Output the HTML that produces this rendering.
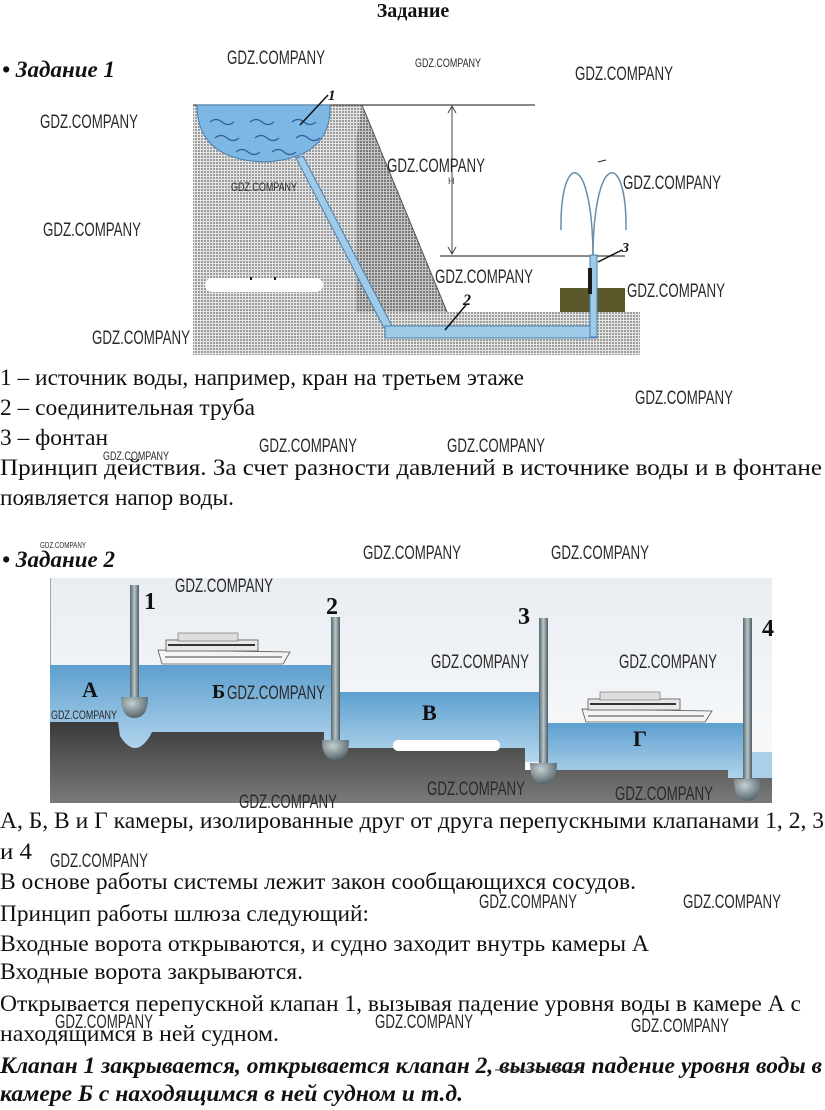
<!DOCTYPE html>
<html><head><meta charset="utf-8"><style>
html,body{margin:0;padding:0;background:#fff;}
svg{display:block;}
.t{font-family:"Liberation Serif","DejaVu Serif",serif;font-size:23px;fill:#111;}
.b{font-weight:bold;font-size:20px;}
.bi{font-weight:bold;font-style:italic;}
.w{font-family:"Liberation Sans","DejaVu Sans",sans-serif;font-size:19px;fill:#2a2a2a;}
.ws{font-family:"Liberation Sans","DejaVu Sans",sans-serif;font-size:12px;fill:#2a2a2a;}
.hw{font-family:"Liberation Serif",serif;font-size:26px;font-weight:bold;fill:#111;}
</style></head><body>
<svg width="825" height="1110" viewBox="0 0 825 1110" xmlns="http://www.w3.org/2000/svg">
<defs>
<pattern id="dots" width="3" height="3" patternUnits="userSpaceOnUse"><rect width="3" height="3" fill="#e4e4e4"/><rect width="2" height="2" fill="#9c9c9c"/></pattern>
<pattern id="dots2" width="3" height="3" patternUnits="userSpaceOnUse"><rect width="3" height="3" fill="#bdbdbd"/><rect width="2" height="2" fill="#707070"/></pattern>
<linearGradient id="sky" x1="0" y1="0" x2="0" y2="1"><stop offset="0" stop-color="#e9edf1"/><stop offset="1" stop-color="#fbfcfd"/></linearGradient>
<linearGradient id="water" x1="0" y1="0" x2="0" y2="1"><stop offset="0" stop-color="#5d9fcf"/><stop offset="1" stop-color="#b7d8ee"/></linearGradient>
<linearGradient id="ground" x1="0" y1="0" x2="0" y2="1"><stop offset="0" stop-color="#3a3a3a"/><stop offset="1" stop-color="#7a7a7a"/></linearGradient>
<linearGradient id="pole" x1="0" y1="0" x2="1" y2="0"><stop offset="0" stop-color="#55676e"/><stop offset="0.5" stop-color="#b9c6ca"/><stop offset="1" stop-color="#4d5c62"/></linearGradient>
<radialGradient id="bulb" cx="0.4" cy="0.3" r="0.8"><stop offset="0" stop-color="#c4d0d3"/><stop offset="1" stop-color="#44555b"/></radialGradient>
</defs>

<text class="t b" x="413" y="17" text-anchor="middle">Задание</text>
<text class="t bi" x="2" y="77" textLength="113" lengthAdjust="spacingAndGlyphs">• Задание 1</text>

<!-- Diagram 1 -->
<polygon points="193,105 362,105 447,312 640,312 640,355 193,355" fill="url(#dots)"/>
<polygon points="356,140 362,105 447,312 356,312" fill="url(#dots2)" opacity="0.8"/>
<line x1="362" y1="105" x2="447" y2="312" stroke="#555" stroke-width="1"/>
<rect x="205" y="278" width="118" height="14" rx="7" fill="#fff"/>
<rect x="250" y="277" width="2" height="3" fill="#222"/><rect x="274" y="277" width="2" height="3" fill="#222"/>
<line x1="193" y1="105" x2="535" y2="105" stroke="#444" stroke-width="1.2"/>
<line x1="440" y1="256" x2="625" y2="256" stroke="#444" stroke-width="1.2"/>
<line x1="452" y1="107" x2="452" y2="254" stroke="#444" stroke-width="1"/>
<path d="M448,113 L452,106 L456,113 M448,247 L452,254 L456,247" stroke="#444" fill="none"/>
<text x="448" y="184" font-family="Liberation Sans" font-size="9" fill="#444">H</text>
<path d="M197,105 L330,105 Q332,158 265,162 Q197,160 197,105 Z" fill="#7db7e3" stroke="#4a80b0"/>
<g stroke="#2f5f9a" stroke-width="1.2" fill="none">
<path d="M210,122 q6,-5 12,0 q6,5 12,0"/><path d="M250,122 q6,-5 12,0 q6,5 12,0"/><path d="M292,122 q6,-5 12,0 q6,5 12,0"/>
<path d="M215,138 q6,-5 12,0 q6,5 12,0"/><path d="M255,138 q6,-5 12,0 q6,5 12,0"/><path d="M296,138 q6,-5 12,0 q6,5 12,0"/>
<path d="M236,152 q6,-5 12,0 q6,5 12,0"/><path d="M272,152 q6,-5 12,0 q6,5 12,0"/>
</g>
<polygon points="296,158 303,156 392,326 384,328" fill="#9fcbe9" stroke="#4a80b0"/>
<rect x="385" y="326" width="212" height="12" fill="#9fcbe9" stroke="#4a80b0"/>
<rect x="560" y="288" width="65" height="24" fill="#5b582c"/>
<rect x="590" y="255" width="7" height="82" fill="#9fcbe9" stroke="#4a80b0"/>
<rect x="588" y="268" width="4" height="26" fill="#1c1c1c"/>
<g stroke="#6a8ea8" stroke-width="1.5" fill="none">
<path d="M593,255 C592,150 560,150 561,230"/>
<path d="M593,255 C594,150 627,150 626,230"/>
</g>
<path d="M598,162 l8,-2" stroke="#222"/>
<g stroke="#111" stroke-width="1.5" fill="none">
<path d="M300,125 L328,95"/><path d="M445,330 L466,305"/><path d="M598,262 L622,250"/>
</g>
<text x="328" y="100" font-family="Liberation Serif" font-style="italic" font-weight="bold" font-size="15" fill="#111">1</text>
<text x="463" y="305" font-family="Liberation Serif" font-style="italic" font-weight="bold" font-size="16" fill="#111">2</text>
<text x="622" y="252" font-family="Liberation Serif" font-style="italic" font-weight="bold" font-size="14" fill="#111">3</text>

<text class="t" x="0" y="385" textLength="524" lengthAdjust="spacingAndGlyphs">1 – источник воды, например, кран на третьем этаже</text>
<text class="t" x="0" y="415" textLength="255" lengthAdjust="spacingAndGlyphs">2 – соединительная труба</text>
<text class="t" x="0" y="445" textLength="108" lengthAdjust="spacingAndGlyphs">3 – фонтан</text>
<text class="t" x="0" y="475" textLength="822" lengthAdjust="spacingAndGlyphs">Принцип  действия.  За  счет  разности  давлений  в  источнике  воды  и  в  фонтане</text>
<text class="t" x="0" y="505" textLength="234" lengthAdjust="spacingAndGlyphs">появляется напор воды.</text>

<text class="t bi" x="2" y="567" textLength="113" lengthAdjust="spacingAndGlyphs">• Задание 2</text>

<!-- Diagram 2 -->
<rect x="50" y="578" width="722" height="225" fill="url(#sky)"/>
<line x1="50.5" y1="578" x2="50.5" y2="803" stroke="#9aa" stroke-width="1"/>
<rect x="50" y="665" width="286" height="90" fill="url(#water)"/>
<rect x="336" y="692" width="206" height="70" fill="url(#water)"/>
<rect x="542" y="723" width="205" height="60" fill="url(#water)"/>
<rect x="747" y="752" width="25" height="30" fill="#a9cfe9"/>
<path d="M50,722 L118,722 L120,736 Q135,760 150,736 L152,732 L324,732 L324,748 L525,748 L525,770 L728,770 L728,778 L772,778 L772,803 L50,803 Z" fill="url(#ground)"/>
<rect x="393" y="740" width="107" height="11" rx="5" fill="#fff"/>
<g>
<path d="M158,650 L290,652 L283,664 L162,664 Z" fill="#f4f4f4" stroke="#555" stroke-width="0.8"/>
<rect x="166" y="640" width="92" height="11" fill="#e8e8e8" stroke="#555" stroke-width="0.8"/>
<rect x="178" y="633" width="60" height="8" fill="#ddd" stroke="#666" stroke-width="0.6"/>
<line x1="168" y1="645" x2="255" y2="645" stroke="#333" stroke-width="2"/>
<line x1="165" y1="657" x2="282" y2="657" stroke="#444" stroke-width="1"/>
</g>
<g>
<path d="M582,709 L712,711 L705,722 L586,722 Z" fill="#f4f4f4" stroke="#555" stroke-width="0.8"/>
<rect x="588" y="699" width="92" height="11" fill="#e8e8e8" stroke="#555" stroke-width="0.8"/>
<rect x="600" y="692" width="60" height="8" fill="#ddd" stroke="#666" stroke-width="0.6"/>
<line x1="590" y1="704" x2="676" y2="704" stroke="#333" stroke-width="2"/>
<line x1="588" y1="716" x2="704" y2="716" stroke="#444" stroke-width="1"/>
</g>
<rect x="130" y="585" width="9" height="112" fill="url(#pole)"/>
<path d="M121,697 L148,697 Q148,718 134.5,718 Q121,718 121,697 Z" fill="url(#bulb)"/>
<rect x="331" y="617" width="9" height="125" fill="url(#pole)"/>
<path d="M322,740 L349,740 Q349,760 335.5,760 Q322,760 322,740 Z" fill="url(#bulb)"/>
<rect x="539" y="618" width="9" height="146" fill="url(#pole)"/>
<path d="M530,763 L557,763 Q557,784 543.5,784 Q530,784 530,763 Z" fill="url(#bulb)"/>
<rect x="743" y="618" width="9" height="162" fill="url(#pole)"/>
<path d="M734,779 L761,779 Q761,801 747.5,801 Q734,801 734,779 Z" fill="url(#bulb)"/>
<g class="hw">
<text x="144" y="609" font-size="24">1</text>
<text x="326" y="614" font-size="24">2</text>
<text x="518" y="624" font-size="24">3</text>
<text x="762" y="636" font-size="24">4</text>
<text x="82" y="697" font-size="22">А</text>
<text x="212" y="698" font-size="20">Б</text>
<text x="422" y="720" font-size="22">В</text>
<text x="633" y="746" font-size="22">Г</text>
</g>

<text class="t" x="0" y="828" textLength="824" lengthAdjust="spacingAndGlyphs">А, Б, В и Г камеры, изолированные друг от друга перепускными клапанами 1, 2, 3</text>
<text class="t" x="0" y="859" textLength="32" lengthAdjust="spacingAndGlyphs">и 4</text>
<text class="t" x="0" y="889" textLength="636" lengthAdjust="spacingAndGlyphs">В основе работы системы лежит закон сообщающихся сосудов.</text>
<text class="t" x="0" y="921" textLength="369" lengthAdjust="spacingAndGlyphs">Принцип работы шлюза следующий:</text>
<text class="t" x="0" y="951" textLength="649" lengthAdjust="spacingAndGlyphs">Входные ворота открываются, и судно заходит внутрь камеры А</text>
<text class="t" x="0" y="979" textLength="303" lengthAdjust="spacingAndGlyphs">Входные ворота закрываются.</text>
<text class="t" x="0" y="1011" textLength="801" lengthAdjust="spacingAndGlyphs">Открывается перепускной клапан 1, вызывая падение уровня воды в камере А с</text>
<text class="t" x="0" y="1041" textLength="279" lengthAdjust="spacingAndGlyphs">находящимся в ней судном.</text>
<text class="t bi" x="0" y="1073" textLength="822" lengthAdjust="spacingAndGlyphs">Клапан 1 закрывается, открывается клапан 2, вызывая падение уровня воды в</text>
<line x1="495" y1="1070" x2="580" y2="1070" stroke="#333" stroke-width="1"/>
<text class="t bi" x="0" y="1101" textLength="463" lengthAdjust="spacingAndGlyphs">камере Б с находящимся в ней судном и т.д.</text>

<g class="w">
<text x="227" y="64" textLength="98" lengthAdjust="spacingAndGlyphs">GDZ.COMPANY</text>
<text x="575" y="80" textLength="98" lengthAdjust="spacingAndGlyphs">GDZ.COMPANY</text>
<text x="40" y="128" textLength="98" lengthAdjust="spacingAndGlyphs">GDZ.COMPANY</text>
<text x="387" y="172" textLength="98" lengthAdjust="spacingAndGlyphs">GDZ.COMPANY</text>
<text x="623" y="189" textLength="98" lengthAdjust="spacingAndGlyphs">GDZ.COMPANY</text>
<text x="43" y="236" textLength="98" lengthAdjust="spacingAndGlyphs">GDZ.COMPANY</text>
<text x="435" y="283" textLength="98" lengthAdjust="spacingAndGlyphs">GDZ.COMPANY</text>
<text x="627" y="297" textLength="98" lengthAdjust="spacingAndGlyphs">GDZ.COMPANY</text>
<text x="92" y="344" textLength="98" lengthAdjust="spacingAndGlyphs">GDZ.COMPANY</text>
<text x="635" y="404" textLength="98" lengthAdjust="spacingAndGlyphs">GDZ.COMPANY</text>
<text x="259" y="452" textLength="98" lengthAdjust="spacingAndGlyphs">GDZ.COMPANY</text>
<text x="447" y="452" textLength="98" lengthAdjust="spacingAndGlyphs">GDZ.COMPANY</text>
<text x="363" y="559" textLength="98" lengthAdjust="spacingAndGlyphs">GDZ.COMPANY</text>
<text x="551" y="559" textLength="98" lengthAdjust="spacingAndGlyphs">GDZ.COMPANY</text>
<text x="175" y="592" textLength="98" lengthAdjust="spacingAndGlyphs">GDZ.COMPANY</text>
<text x="431" y="668" textLength="98" lengthAdjust="spacingAndGlyphs">GDZ.COMPANY</text>
<text x="619" y="668" textLength="98" lengthAdjust="spacingAndGlyphs">GDZ.COMPANY</text>
<text x="227" y="699" textLength="98" lengthAdjust="spacingAndGlyphs">GDZ.COMPANY</text>
<text x="239" y="808" textLength="98" lengthAdjust="spacingAndGlyphs">GDZ.COMPANY</text>
<text x="427" y="795" textLength="98" lengthAdjust="spacingAndGlyphs">GDZ.COMPANY</text>
<text x="615" y="800" textLength="98" lengthAdjust="spacingAndGlyphs">GDZ.COMPANY</text>
<text x="50" y="867" textLength="98" lengthAdjust="spacingAndGlyphs">GDZ.COMPANY</text>
<text x="479" y="908" textLength="98" lengthAdjust="spacingAndGlyphs">GDZ.COMPANY</text>
<text x="683" y="908" textLength="98" lengthAdjust="spacingAndGlyphs">GDZ.COMPANY</text>
<text x="55" y="1028" textLength="98" lengthAdjust="spacingAndGlyphs">GDZ.COMPANY</text>
<text x="375" y="1028" textLength="98" lengthAdjust="spacingAndGlyphs">GDZ.COMPANY</text>
<text x="631" y="1032" textLength="98" lengthAdjust="spacingAndGlyphs">GDZ.COMPANY</text>
</g>
<g class="ws">
<text x="415" y="67" textLength="66" lengthAdjust="spacingAndGlyphs">GDZ.COMPANY</text>
<text x="231" y="191" textLength="66" lengthAdjust="spacingAndGlyphs">GDZ.COMPANY</text>
<text x="103" y="460" textLength="66" lengthAdjust="spacingAndGlyphs">GDZ.COMPANY</text>
<text x="51" y="719" textLength="66" lengthAdjust="spacingAndGlyphs">GDZ.COMPANY</text>
<text x="40" y="548" font-size="8" textLength="46" lengthAdjust="spacingAndGlyphs">GDZ.COMPANY</text>
</g>
</svg>
</body></html>
